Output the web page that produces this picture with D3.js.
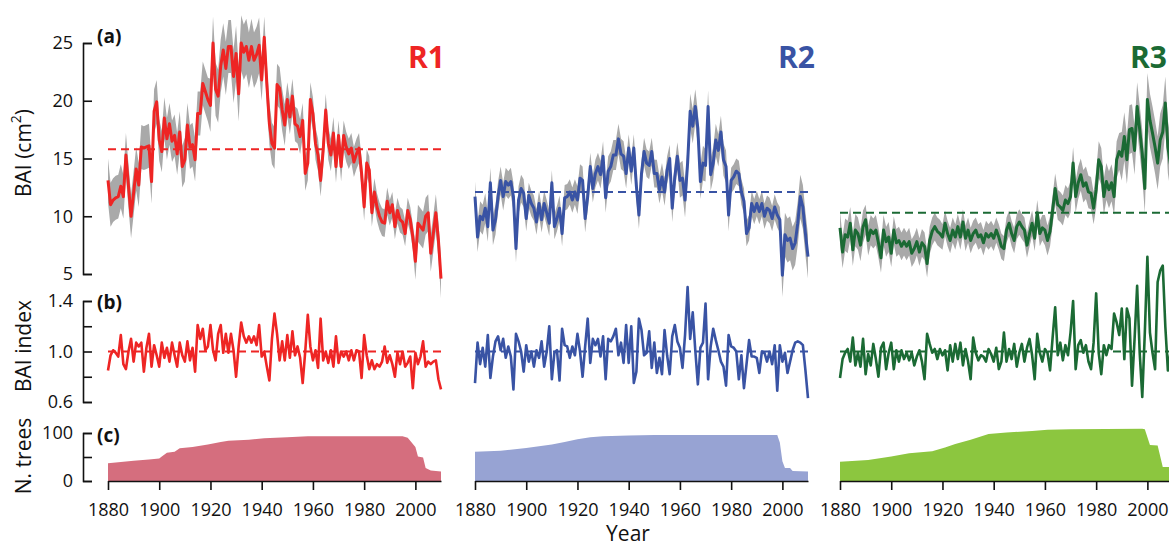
<!DOCTYPE html>
<html>
<head>
<meta charset="utf-8">
<script src="https://d3js.org/d3.v7.min.js"></script>
<style>
  body { margin: 0; background: #fff; }
  svg text { font-family: "Open Sans", "DejaVu Sans", sans-serif; fill: #111; }
</style>
</head>
<body>
<script>
console.log("script loaded");

// years 1880-2010, one value per year
let years = d3.range(1880, 2011);
let regions = ["R1", "R2", "R3"];
let xTicks = [1880, 1900, 1920, 1940, 1960, 1980, 2000];

// (a) BAI (cm2)
let baiR1 = [13.1, 11.0, 11.4, 11.6, 11.7, 12.6, 11.7, 15.3, 12.6, 10.0,
  12.0, 14.1, 12.7, 16.0, 15.9, 16.0, 16.1, 13.0, 19.1, 19.9,
  16.6, 15.6, 18.5, 16.7, 18.0, 16.5, 17.0, 15.4, 17.3, 14.3,
  14.9, 17.9, 16.0, 16.2, 14.9, 18.9, 18.9, 21.5, 20.8, 20.1,
  19.6, 25.0, 21.0, 20.4, 23.0, 24.4, 22.8, 24.7, 24.7, 22.1,
  24.1, 20.6, 25.0, 24.2, 24.7, 23.5, 24.7, 23.5, 24.0, 24.8,
  21.8, 25.5, 21.5, 18.0, 16.3, 15.9, 21.4, 21.1, 19.2, 17.9,
  20.1, 18.6, 20.4, 18.0, 17.8, 16.9, 18.3, 13.7, 14.6, 20.1,
  18.9, 16.3, 15.3, 13.1, 15.7, 19.2, 16.3, 15.3, 17.2, 14.3,
  17.0, 14.3, 17.0, 16.0, 15.4, 15.9, 14.7, 15.4, 15.9, 13.7,
  10.8, 14.6, 14.0, 10.3, 12.1, 10.8, 10.0, 9.5, 9.4, 11.3,
  10.3, 11.0, 9.1, 10.5, 9.7, 9.5, 8.5, 10.5, 9.7, 8.2,
  6.1, 9.4, 9.1, 8.8, 10.0, 10.3, 6.8, 8.5, 10.3, 7.9, 4.6];

let baiR2 = [11.7, 8.2, 10.0, 9.7, 10.7, 9.1, 12.9, 8.8, 9.7, 11.7,
  13.1, 11.7, 13.0, 12.7, 13.0, 11.7, 7.2, 11.4, 12.4, 12.0,
  9.8, 11.8, 11.1, 10.7, 9.5, 11.1, 9.7, 11.1, 10.3, 9.4,
  12.9, 9.1, 9.8, 10.7, 8.5, 11.6, 11.7, 12.1, 11.4, 12.1,
  11.4, 13.3, 13.1, 9.8, 11.7, 14.3, 12.4, 13.7, 14.3, 13.6,
  15.2, 11.6, 13.9, 14.3, 15.3, 15.3, 16.7, 15.4, 15.2, 13.7,
  15.9, 13.9, 15.9, 12.6, 10.1, 13.7, 15.6, 14.6, 14.4, 15.6,
  13.7, 13.7, 12.3, 13.4, 12.1, 14.0, 15.0, 10.7, 13.4, 15.2,
  13.1, 13.3, 11.4, 14.6, 19.1, 17.8, 19.5, 17.6, 13.0, 14.6,
  14.4, 19.5, 13.6, 14.6, 16.6, 15.7, 17.3, 14.9, 14.3, 10.1,
  13.1, 13.4, 13.9, 13.7, 12.1, 11.3, 8.5, 9.0, 11.1, 10.4,
  11.1, 10.4, 11.1, 10.0, 10.7, 10.5, 9.8, 10.8, 10.1, 9.7,
  4.9, 8.4, 7.9, 8.1, 7.2, 7.7, 9.4, 11.7, 10.8, 8.5, 6.5];

let baiR3 = [9.0, 6.9, 8.4, 8.2, 9.4, 7.1, 8.8, 8.5, 7.5, 9.1,
  9.7, 7.9, 8.8, 8.5, 8.8, 7.7, 6.4, 8.8, 7.8, 8.2,
  6.8, 8.8, 7.7, 7.9, 7.4, 7.8, 7.4, 7.8, 6.8, 7.2,
  7.8, 6.9, 7.7, 7.4, 5.9, 7.9, 8.7, 9.1, 8.7, 8.5,
  8.2, 9.4, 8.5, 7.9, 8.8, 8.2, 9.1, 8.2, 9.5, 8.1,
  8.8, 7.9, 8.5, 8.8, 8.2, 8.4, 7.7, 8.5, 8.2, 8.5,
  8.1, 8.8, 8.2, 7.4, 7.2, 8.8, 9.4, 8.5, 7.9, 9.1,
  9.5, 9.1, 8.8, 7.5, 8.5, 9.4, 8.1, 10.3, 8.5, 9.0,
  8.8, 7.9, 8.7, 10.5, 12.4, 11.0, 10.8, 10.5, 11.4, 11.1,
  11.7, 14.6, 11.7, 12.9, 13.6, 12.6, 12.9, 12.1, 12.0, 10.7,
  12.3, 14.9, 14.3, 11.7, 13.0, 12.3, 12.9, 11.7, 14.9, 15.6,
  15.2, 16.9, 14.9, 17.5, 17.6, 15.7, 19.5, 17.5, 15.4, 12.4,
  20.1, 18.3, 17.2, 16.0, 14.6, 16.6, 17.3, 19.8, 16.0, 14.5, 12.8];

// grey band half width, one value per decade (1880s ... 2010)
let seR1 = [1.9, 1.9, 1.8, 1.9, 2.3, 2.4, 1.8, 1.5, 1.4, 1.3, 1.2, 1.1, 1.6, 1.7];
let seR2 = [1.3, 1.2, 1.1, 1.1, 1.2, 1.3, 1.2, 1.2, 1.5, 1.4, 1.1, 1.1, 1.9, 1.9];
let seR3 = [1.4, 1.3, 1.2, 1.2, 1.1, 1.1, 1.1, 1.1, 1.3, 1.4, 1.6, 2.1, 2.3, 2.3];

let baiMean = [15.8, 12.1, 10.3];

// (b) BAI index
let idxR1 = [0.85, 0.97, 1.01, 0.99, 0.96, 1.13, 0.90, 0.86, 1.00, 1.10,
  0.92, 1.07, 1.04, 1.07, 0.84, 1.03, 1.14, 0.88, 1.05, 0.97,
  0.88, 1.07, 0.95, 1.03, 0.92, 1.07, 0.97, 0.88, 1.07, 0.97,
  0.92, 1.08, 0.93, 1.03, 0.84, 1.21, 1.10, 1.18, 1.01, 1.04,
  1.21, 1.01, 0.93, 1.14, 1.21, 0.99, 1.14, 0.99, 1.14, 1.01,
  0.80, 1.04, 1.23, 1.12, 1.07, 1.12, 1.07, 1.12, 1.05, 1.21,
  0.96, 1.00, 0.88, 0.77, 1.10, 1.30, 1.14, 0.93, 1.08, 0.93,
  1.13, 0.95, 1.16, 0.97, 1.04, 0.95, 0.75, 1.00, 1.29, 1.04,
  0.93, 1.01, 0.87, 1.26, 0.93, 1.00, 0.91, 1.01, 0.88, 1.12,
  0.91, 1.00, 0.96, 1.00, 0.93, 1.01, 0.93, 1.01, 1.00, 0.79,
  1.13, 0.97, 0.86, 0.93, 0.86, 0.90, 0.88, 0.92, 1.04, 0.91,
  0.97, 0.90, 0.80, 0.99, 0.90, 1.00, 0.88, 0.91, 0.96, 0.71,
  0.99, 0.90, 0.96, 1.08, 0.88, 0.92, 0.90, 0.92, 0.93, 0.78, 0.70];

let idxR2 = [0.75, 1.07, 0.90, 1.03, 0.88, 1.13, 0.79, 0.96, 1.08, 1.12,
  1.01, 1.10, 0.95, 1.04, 0.96, 0.70, 1.14, 1.08, 1.00, 0.84,
  1.05, 0.92, 1.00, 0.88, 1.01, 0.95, 1.08, 0.88, 1.00, 1.20,
  0.78, 0.99, 1.01, 0.77, 1.18, 1.05, 1.04, 0.95, 1.04, 0.97,
  1.14, 1.00, 0.80, 1.04, 1.26, 0.91, 1.10, 1.05, 1.10, 0.96,
  1.12, 0.78, 1.10, 1.08, 1.12, 1.18, 0.97, 1.07, 0.91, 1.21,
  0.91, 1.20, 0.75, 0.84, 1.26, 1.17, 0.97, 0.99, 1.16, 0.87,
  1.07, 0.83, 0.95, 0.82, 1.17, 0.97, 0.82, 1.12, 1.21, 1.08,
  1.03, 0.87, 1.13, 1.51, 1.10, 1.31, 1.01, 0.74, 1.03, 1.07,
  1.38, 0.78, 1.04, 1.18, 1.09, 1.01, 0.92, 0.88, 0.73, 1.13,
  1.04, 1.03, 1.00, 0.78, 0.97, 0.71, 0.90, 1.09, 0.96, 0.96,
  0.95, 0.83, 1.00, 0.99, 0.92, 1.00, 0.90, 1.05, 0.69, 1.05,
  0.92, 0.99, 0.83, 0.92, 1.01, 1.07, 1.08, 1.07, 1.05, 0.85, 0.63];

let idxR3 = [0.79, 0.94, 0.99, 1.02, 0.92, 1.11, 0.89, 0.99, 0.88, 1.10,
  0.82, 0.98, 0.89, 1.06, 0.94, 0.80, 1.03, 1.07, 0.86, 0.99,
  1.07, 0.86, 1.01, 0.92, 1.01, 0.94, 0.99, 0.93, 0.99, 0.89,
  0.96, 1.01, 0.92, 0.78, 1.14, 1.06, 0.99, 1.02, 0.94, 1.02,
  0.97, 1.01, 0.85, 1.05, 0.92, 1.06, 0.94, 1.07, 0.89, 1.02,
  0.92, 0.78, 1.11, 0.99, 0.93, 0.97, 0.96, 0.92, 1.02, 0.98,
  0.92, 1.03, 0.86, 0.92, 1.15, 0.92, 1.02, 0.94, 1.06, 0.88,
  0.99, 1.06, 0.92, 1.03, 1.10, 0.97, 0.78, 1.14, 0.99, 0.92,
  1.02, 0.99, 0.85, 1.11, 1.35, 0.97, 1.07, 0.93, 1.05, 0.97,
  1.15, 1.40, 0.86, 1.05, 1.09, 0.99, 1.05, 0.92, 0.86, 1.07,
  1.46, 0.99, 0.82, 1.05, 0.97, 1.05, 1.02, 1.30, 1.23, 1.13,
  1.34, 0.94, 1.34, 1.26, 0.73, 1.10, 1.52, 0.99, 0.64, 1.15,
  1.75, 1.15, 0.99, 0.86, 1.55, 1.64, 1.68, 1.20, 0.85, 1.00, 0.90];

let idxMean = [1.0, 1.0, 1.0];

// (c) number of trees, [year, n] where the sample depth changes
let treesR1 = [[1880, 37], [1890, 42], [1896, 45], [1900, 47], [1901, 51], [1903, 59], [1906, 61],
  [1908, 68], [1913, 71], [1919, 76], [1924, 81], [1927, 84], [1935, 86], [1941, 89],
  [1950, 91], [1958, 93], [1995, 93], [1997, 90], [2000, 71], [2001, 51], [2003, 49],
  [2004, 27], [2006, 22], [2010, 20]];
let treesR2 = [[1880, 61], [1890, 63], [1900, 69], [1910, 76], [1915, 81], [1920, 87],
  [1925, 91], [1930, 93], [1940, 95], [1950, 96], [1998, 96], [1999, 80], [2000, 41],
  [2001, 27], [2003, 27], [2004, 21], [2010, 20]];
let treesR3 = [[1880, 40], [1891, 44], [1900, 51], [1907, 58], [1916, 62], [1921, 70],
  [1925, 77], [1931, 86], [1938, 98], [1945, 101], [1955, 104], [1961, 107], [1970, 108],
  [1998, 109], [1999, 108], [2001, 75], [2004, 74], [2006, 29], [2010, 29]];

let baiData = [baiR1, baiR2, baiR3];
let seData = [seR1, seR2, seR3];
let idxData = [idxR1, idxR2, idxR3];
let treeData = [treesR1, treesR2, treesR3];

let lineColors = ["#ee2524", "#3953a4", "#1b6a34"];
let fillColors = ["#d56e7e", "#97a3d3", "#8cc63f"];
let bandColor = "#a9a9a9";

// layout
let panelLeft = [108, 475, 840];
let panelW = 333;

let svg = d3.select("body")
  .append("svg")
    .attr("width", 1169)
    .attr("height", 551)
;

let yA = d3.scaleLinear().domain([5, 25]).range([274, 43]);
let yB = d3.scaleLinear().domain([0.6, 1.4]).range([402, 301]);
let yC = d3.scaleLinear().domain([0, 100]).range([481, 433]);

regions.forEach(function(name, i){
  let x = d3.scaleLinear().domain([1880, 2010]).range([panelLeft[i], panelLeft[i] + panelW]);
  let g = svg.append("g");

  // --- (a) grey band + line
  let se = seData[i];
  let band = d3.area()
    .x(function(d, j){ return x(years[j]); })
    .y0(function(d, j){ return yA(d - se[Math.floor(j / 10)]); })
    .y1(function(d, j){ return yA(d + se[Math.floor(j / 10)]); });
  g.append("path")
    .datum(baiData[i])
    .attr("d", band)
    .attr("fill", bandColor);

  g.append("path")
    .datum([[1880, baiMean[i]], [2010, baiMean[i]]])
    .attr("d", d3.line().x(d => x(d[0])).y(d => yA(d[1])))
    .attr("stroke", lineColors[i])
    .attr("stroke-width", 2)
    .attr("stroke-dasharray", "8,5")
    .attr("fill", "none");

  let lineA = d3.line()
    .x(function(d, j){ return x(years[j]); })
    .y(function(d){ return yA(d); });
  g.append("path")
    .datum(baiData[i])
    .attr("d", lineA)
    .attr("fill", "none")
    .attr("stroke", lineColors[i])
    .attr("stroke-width", 3)
    .attr("stroke-linejoin", "round");

  // region name
  g.append("text")
    .attr("x", [445, 815, 1167][i])
    .attr("y", 68)
    .attr("text-anchor", "end")
    .attr("font-size", 30)
    .attr("font-weight", "bold")
    .style("fill", lineColors[i])
    .text(name);

  // --- (b) index
  g.append("path")
    .datum([[1880, idxMean[i]], [2010, idxMean[i]]])
    .attr("d", d3.line().x(d => x(d[0])).y(d => yB(d[1])))
    .attr("stroke", lineColors[i])
    .attr("stroke-width", 2)
    .attr("stroke-dasharray", "8,5")
    .attr("fill", "none");

  let lineB = d3.line()
    .x(function(d, j){ return x(years[j]); })
    .y(function(d){ return yB(d); });
  g.append("path")
    .datum(idxData[i])
    .attr("d", lineB)
    .attr("fill", "none")
    .attr("stroke", lineColors[i])
    .attr("stroke-width", 2.6)
    .attr("stroke-linejoin", "round");

  // --- (c) n trees
  let areaC = d3.area()
    .x(d => x(d[0]))
    .y0(yC(0))
    .y1(d => yC(d[1]));
  g.append("path")
    .datum(treeData[i])
    .attr("d", areaC)
    .attr("fill", fillColors[i]);

  let xAxis = d3.axisBottom(x)
    .tickValues(xTicks)
    .tickFormat(d3.format("d"))
    .tickSize(9)
    .tickSizeOuter(0)
    .tickPadding(13);
  let gx = g.append("g")
    .attr("transform", "translate(0,481)")
    .call(xAxis);
  gx.selectAll("text").attr("font-size", 18).style("font-family", "'Open Sans', sans-serif");
  gx.selectAll("line, path").attr("stroke", "#111").attr("stroke-width", 1.6);
});

// left axes
function leftAxis(scale, ticks, fmt){
  let ax = d3.axisLeft(scale)
    .tickValues(ticks)
    .tickFormat(fmt)
    .tickSize(-9)
    .tickPadding(10);
  let ga = svg.append("g")
    .attr("transform", "translate(83,0)")
    .call(ax);
  ga.selectAll("text").attr("font-size", 18).style("font-family", "'Open Sans', sans-serif");
  ga.selectAll("line, path").attr("stroke", "#111").attr("stroke-width", 1.6);
}

leftAxis(yA, [5, 10, 15, 20, 25], d3.format("d"));
leftAxis(yB, [0.6, 0.8, 1.0, 1.2, 1.4], function(d){ return (d == 0.8 || d == 1.2) ? "" : d3.format(".1f")(d); });
leftAxis(yC, [0, 50, 100], function(d){ return d == 50 ? "" : d; });

// axis titles
let tA = svg.append("text")
  .attr("transform", "translate(23,153) rotate(-90)")
  .attr("text-anchor", "middle")
  .attr("dominant-baseline", "central")
  .attr("font-size", 21);
tA.append("tspan").text("BAI (cm");
tA.append("tspan").attr("dy", -8).attr("font-size", 14).text("2");
tA.append("tspan").attr("dy", 8).text(")");

svg.append("text")
  .attr("transform", "translate(23,346) rotate(-90)")
  .attr("text-anchor", "middle")
  .attr("dominant-baseline", "central")
  .attr("font-size", 21)
  .text("BAI index");

svg.append("text")
  .attr("transform", "translate(23,456) rotate(-90)")
  .attr("text-anchor", "middle")
  .attr("dominant-baseline", "central")
  .attr("font-size", 21)
  .text("N. trees");

svg.append("text")
  .attr("x", 628)
  .attr("y", 533)
  .attr("text-anchor", "middle")
  .attr("dominant-baseline", "central")
  .attr("font-size", 21)
  .text("Year");

// panel letters
let letters = [["(a)", 36], ["(b)", 302], ["(c)", 435]];
letters.forEach(function(l){
  svg.append("text")
    .attr("x", 97)
    .attr("y", l[1])
    .attr("dominant-baseline", "central")
    .attr("font-size", 19)
    .attr("font-weight", "bold")
    .text(l[0]);
});
</script>
</body>
</html>
